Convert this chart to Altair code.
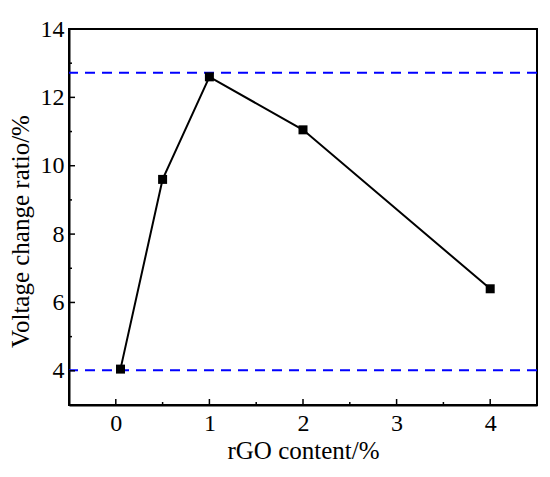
import altair as alt
import pandas as pd

# data
rgo = [0.05, 0.5, 1, 2, 4]
ratio = [4.05, 9.6, 12.6, 11.05, 6.4]
ref_lines = [12.72, 4.02]
x_major = [0, 1, 2, 3, 4]
x_minor = [0.5, 1.5, 2.5, 3.5]
y_major = [4, 6, 8, 10, 12]
y_minor = [5, 7, 9, 11, 13]

df = pd.DataFrame({"x": rgo, "y": ratio})
ref = pd.DataFrame({"y": ref_lines})
xmaj = pd.DataFrame({"x": x_major})
xmin = pd.DataFrame({"x": x_minor})
ymaj = pd.DataFrame({"y": y_major})
ymin = pd.DataFrame({"y": y_minor})

FONT = "Liberation Serif, Times New Roman, serif"
xs = alt.Scale(domain=[-0.5, 4.5], nice=False, zero=False)
ys = alt.Scale(domain=[3, 14], nice=False, zero=False)
H = 376

xaxis = alt.Axis(title="rGO content/%", values=x_major, format="d", ticks=False,
                 grid=False, labelPadding=6, titlePadding=3, domainWidth=2, domainColor="black")
yaxis = alt.Axis(title="Voltage change ratio/%", values=[4, 6, 8, 10, 12, 14], format="d", ticks=False,
                 grid=False, labelPadding=5, titlePadding=7, domainWidth=2, domainColor="black",
                 titleY=202)

line = alt.Chart(df).mark_line(color="black", strokeWidth=2).encode(
    x=alt.X("x:Q", scale=xs, axis=xaxis),
    y=alt.Y("y:Q", scale=ys, axis=yaxis),
)
pts = alt.Chart(df).mark_square(color="black", size=81, opacity=1).encode(
    x=alt.X("x:Q", scale=xs), y=alt.Y("y:Q", scale=ys))

refl = alt.Chart(ref).mark_rule(color="#0000FF", strokeWidth=2, strokeDash=[10, 7]).encode(
    y=alt.Y("y:Q", scale=ys))

xt_major = alt.Chart(xmaj).mark_rule(color="black", strokeWidth=1.5).encode(
    x=alt.X("x:Q", scale=xs), y=alt.value(H), y2=alt.value(H - 6))
xt_minor = alt.Chart(xmin).mark_rule(color="black", strokeWidth=1.5).encode(
    x=alt.X("x:Q", scale=xs), y=alt.value(H), y2=alt.value(H - 3))
yt_major = alt.Chart(ymaj).mark_rule(color="black", strokeWidth=1.5).encode(
    y=alt.Y("y:Q", scale=ys), x=alt.value(0), x2=alt.value(6))
yt_minor = alt.Chart(ymin).mark_rule(color="black", strokeWidth=1.5).encode(
    y=alt.Y("y:Q", scale=ys), x=alt.value(0), x2=alt.value(3))

chart = alt.layer(refl, line, pts, xt_major, xt_minor, yt_major, yt_minor).properties(
    width=468, height=H,
    autosize=alt.AutoSizeParams(type="none"),
    padding={"left": 61, "top": 21, "right": 5, "bottom": 62},
    background="white",
).configure_view(stroke="black", strokeWidth=2).configure_axis(
    labelFont=FONT, titleFont=FONT, labelFontSize=24, titleFontSize=25,
    labelColor="black", titleColor="black", titleFontWeight="normal",
)

chart.save("out.html", embed_options={"renderer": "svg", "actions": False})
